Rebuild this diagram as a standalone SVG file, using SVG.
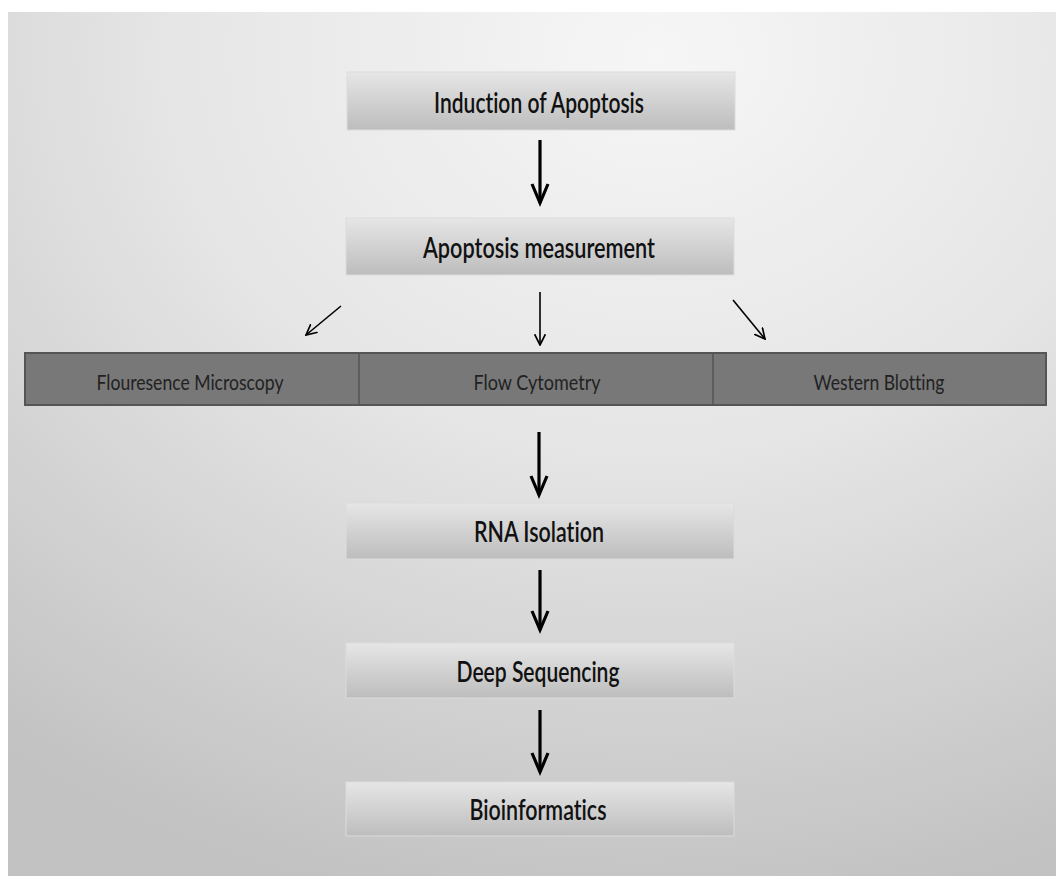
<svg xmlns="http://www.w3.org/2000/svg" width="1056" height="876" viewBox="0 0 1056 876">
<defs>
<radialGradient id="bg" cx="0.6" cy="0.05" r="1.0" fx="0.62" fy="0.05">
<stop offset="0" stop-color="#f6f6f6"/>
<stop offset="0.45" stop-color="#e6e6e6"/>
<stop offset="1" stop-color="#c2c2c2"/>
</radialGradient>
<linearGradient id="box" x1="0" y1="0" x2="0" y2="1">
<stop offset="0" stop-color="#e6e6e6"/>
<stop offset="1" stop-color="#bdbdbd"/>
</linearGradient>
<marker id="ah" viewBox="0 0 10 10" refX="9" refY="5" markerWidth="12" markerHeight="12" orient="auto" markerUnits="userSpaceOnUse">
<path d="M0,0.5 L9,5 L0,9.5" fill="none" stroke="#000" stroke-width="1.4"/>
</marker>
</defs>
<style>
.box{fill:url(#box);stroke:#dcdcdc;stroke-width:1}
.t{font-family:Lato,"Open Sans",sans-serif;font-size:28px;font-weight:600;fill:#111;text-anchor:middle;font-variant-ligatures:none}
.bt{font-family:Lato,"Open Sans",sans-serif;font-size:21px;fill:#222;text-anchor:middle;font-variant-ligatures:none}
.thick{stroke:#000;stroke-width:3.2;fill:none}
.thin{stroke:#000;stroke-width:1.6;fill:none}
</style>
<rect x="0" y="0" width="1056" height="876" fill="#ffffff"/>
<rect x="8" y="12" width="1048" height="864" fill="url(#bg)"/>
<g id="n1"><rect class="box" x="347" y="72" width="388" height="58"/><text class="t" x="539" y="113" textLength="210" lengthAdjust="spacingAndGlyphs">Induction of Apoptosis</text></g>
<g id="n2"><rect class="box" x="346" y="218" width="388" height="57"/><text class="t" x="539" y="258" textLength="232" lengthAdjust="spacingAndGlyphs">Apoptosis measurement</text></g>
<g id="n3">
<rect x="25" y="353" width="1021" height="52" fill="#787878" stroke="#555" stroke-width="2"/>
<line x1="359" y1="353" x2="359" y2="405" stroke="#555" stroke-width="1.5"/>
<line x1="713" y1="353" x2="713" y2="405" stroke="#555" stroke-width="1.5"/>
<text class="bt" x="190" y="390" textLength="187" lengthAdjust="spacingAndGlyphs">Flouresence Microscopy</text>
<text class="bt" x="537" y="390" textLength="127" lengthAdjust="spacingAndGlyphs">Flow Cytometry</text>
<text class="bt" x="879" y="390" textLength="131" lengthAdjust="spacingAndGlyphs">Western Blotting</text>
</g>
<g id="n4"><rect class="box" x="346" y="503" width="388" height="56"/><text class="t" x="539" y="542" textLength="130" lengthAdjust="spacingAndGlyphs">RNA Isolation</text></g>
<g id="n5"><rect class="box" x="346" y="643" width="388" height="55"/><text class="t" x="538" y="682" textLength="163" lengthAdjust="spacingAndGlyphs">Deep Sequencing</text></g>
<g id="n6"><rect class="box" x="346" y="782" width="388" height="54"/><text class="t" x="538" y="820" textLength="137" lengthAdjust="spacingAndGlyphs">Bioinformatics</text></g>
<g id="connectors">
<g class="thick">
<line x1="540" y1="140" x2="540" y2="203"/><polyline points="532,184 540,203 548,184"/>
<line x1="539" y1="432" x2="539" y2="495"/><polyline points="531,476 539,495 547,476"/>
<line x1="540" y1="570" x2="540" y2="630"/><polyline points="532,611 540,630 548,611"/>
<line x1="540" y1="710" x2="540" y2="772"/><polyline points="532,753 540,772 548,753"/>
</g>
<g class="thin">
<line x1="540" y1="292" x2="540" y2="345" marker-end="url(#ah)"/>
<line x1="341" y1="306" x2="306" y2="335" marker-end="url(#ah)"/>
<line x1="733" y1="300" x2="765" y2="339" marker-end="url(#ah)"/>
</g>
</g>
</svg>
